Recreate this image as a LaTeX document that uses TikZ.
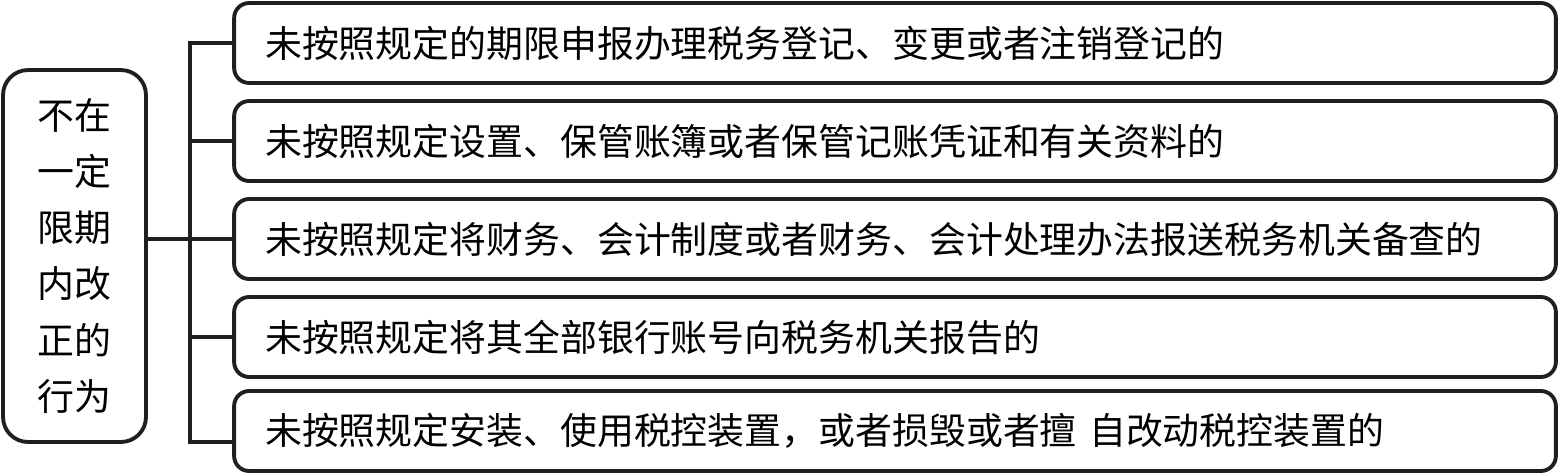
\documentclass[tikz,border=0pt]{standalone}
\usepackage{fontspec}
\setmainfont{Noto Sans CJK SC}
\usepackage{tikz}
\usetikzlibrary{positioning}
\definecolor{inkdark}{HTML}{1F1F1F}

\begin{document}
\begin{tikzpicture}[
  x=0.02cm, y=-0.02cm,
  casebox/.style={
    draw=inkdark, line width=2.2pt, rounded corners=0.3cm,
    minimum height=1.6cm, text width=25.2cm, inner xsep=0.62cm,
    align=left, font=\fontsize{21pt}{25pt}\selectfont
  },
  headbox/.style={
    draw=inkdark, line width=2.2pt, rounded corners=0.5cm,
    minimum width=2.86cm, minimum height=7.44cm,
    align=center, font=\fontsize{21pt}{31.9pt}\selectfont
  },
  branch/.style={draw=inkdark, line width=2.2pt}
]
\useasboundingbox (0,0) rectangle (1559,474);

% ---- Titre ----
\node[headbox] (head) at (74.5,256) {不在\\一定\\限期\\内改\\正的\\行为};

% ---- Cas ----
\node[casebox] (b1) at (895,43) {未按照规定的期限申报办理税务登记、变更或者注销登记的};
\node[casebox] (b2) at (895,141) {未按照规定设置、保管账簿或者保管记账凭证和有关资料的};
\node[casebox] (b3) at (895,239) {未按照规定将财务、会计制度或者财务、会计处理办法报送税务机关备查的};
\node[casebox] (b4) at (895,337) {未按照规定将其全部银行账号向税务机关报告的};
\node[casebox] (b5) at (895,431) {未按照规定安装、使用税控装置，或者损毁或者擅 自改动税控装置的};

% Liaisons
\coordinate (bus) at (190,239);
\draw[branch] (head.east |- bus) -- (bus);
\draw[branch] (b1.west) -| (bus) |- ([yshift=-0.22cm]b5.west);
\foreach \b in {b2,b3,b4}
  \draw[branch] (bus |- \b.west) -- (\b.west);

\end{tikzpicture}
\end{document}
